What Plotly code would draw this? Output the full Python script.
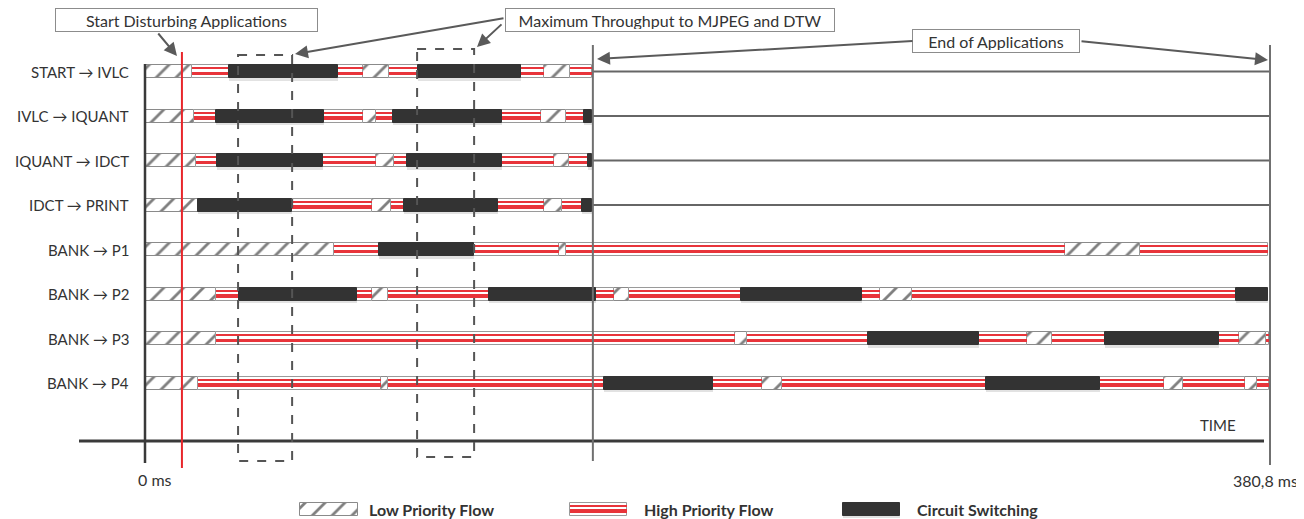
import plotly.graph_objects as go

# ---------------- data (ms) ----------------
TOTAL_MS = 380.8
START_DISTURB_MS = 12.5
END_APPS_MS = 151.6
WINDOW_1 = [31.5, 49.8]
WINDOW_2 = [92.1, 111.4]

row_labels = ["START → IVLC", "IVLC → IQUANT", "IQUANT → IDCT", "IDCT → PRINT",
              "BANK → P1", "BANK → P2", "BANK → P3", "BANK → P4"]

# L = low priority flow, H = high priority flow, C = circuit switching
row0_bounds = [0, 15.8, 28.3, 65.3, 73.8, 82.5, 92.5, 127.3, 135.0, 143.7, 151.3]
row0_kinds = "LHCHLHCHLH"
row1_bounds = [0, 16.5, 23.9, 60.6, 73.8, 78.3, 84.1, 120.8, 134.0, 142.5, 148.7, 151.3]
row1_kinds = "LHCHLHCHLHC"
row2_bounds = [0, 17.4, 24.5, 60.4, 78.3, 84.4, 88.8, 120.9, 138.6, 143.4, 149.9, 151.3]
row2_kinds = "LHCHLHCHLHC"
row3_bounds = [0, 17.8, 49.6, 77.0, 83.4, 87.7, 119.6, 135.0, 141.3, 147.9, 151.3]
row3_kinds = "LCHLHCHLHC"
row4_bounds = [0, 64.0, 79.1, 111.3, 140.3, 142.6, 311.3, 336.8, 380.1]
row4_kinds = "LHCHLHLH"
row5_bounds = [0, 23.9, 31.9, 71.8, 77.0, 82.4, 116.4, 152.8, 158.7, 163.7, 201.6,
               242.6, 248.8, 259.5, 369.2, 380.1]
row5_kinds = "LHCHLHCHLHCHLHC"
row6_bounds = [0, 23.9, 199.6, 203.8, 244.6, 282.4, 298.6, 306.9, 325.1, 363.7,
               370.2, 379.6, 380.5]
row6_kinds = "LHLHCHLHCHLH"
row7_bounds = [0, 17.8, 79.8, 82.4, 155.5, 192.3, 209.0, 215.6, 284.5, 323.4,
               344.9, 351.2, 372.3, 376.5, 380.5]
row7_kinds = "LHLHCHLHCHLHLH"

rows_bounds = [row0_bounds, row1_bounds, row2_bounds, row3_bounds,
               row4_bounds, row5_bounds, row6_bounds, row7_bounds]
rows_kinds = [row0_kinds, row1_kinds, row2_kinds, row3_kinds,
              row4_kinds, row5_kinds, row6_kinds, row7_kinds]
idle_rows = [0, 1, 2, 3]  # rows whose application ends at END_APPS_MS

legend_labels = ["Low Priority Flow", "High Priority Flow", "Circuit Switching"]

# ---------------- geometry / style ----------------
PAGE_W, PAGE_H = 1304, 519
BODY_MARGIN = 8          # default page margin around the plot div
W, H = PAGE_W - BODY_MARGIN, PAGE_H - BODY_MARGIN
X0_PX, X1_PX = 145, 1270
PPM = (X1_PX - X0_PX) / TOTAL_MS
ROW0_PX, ROW_STEP = 71.5, 44.5
FONT = "Lato"
TXT = "#333333"
RED = "#e8343a"
DARK = "#333333"
GRAY = "#666666"


def ms_at(px):
    return (px - X0_PX) / PPM


def row_at(py):
    return (py - ROW0_PX) / ROW_STEP


BAR_W = 13 / ROW_STEP
STRIPE1_W, STRIPE1_OFF = 2.2 / ROW_STEP, -3.2 / ROW_STEP
STRIPE2_W, STRIPE2_OFF = 3.6 / ROW_STEP, 2.0 / ROW_STEP

segs = {"L": ([], [], []), "H": ([], [], []), "C": ([], [], [])}
for r, (b, k) in enumerate(zip(rows_bounds, rows_kinds)):
    for i, kind in enumerate(k):
        segs[kind][0].append(b[i])
        segs[kind][1].append(b[i + 1] - b[i])
        segs[kind][2].append(r)

fig = go.Figure()


def add_kind(kind, base, dur, ys):
    common = dict(orientation="h", hoverinfo="skip", showlegend=False)
    if kind == "L":
        fig.add_trace(go.Bar(base=base, x=dur, y=ys, width=BAR_W,
                             marker=dict(color="white",
                                         pattern=dict(shape="/", fgcolor="#000000", bgcolor="white",
                                                      size=14, solidity=0.2),
                                         line=dict(color="#8a8a8a", width=1)), **common))
    elif kind == "H":
        fig.add_trace(go.Bar(base=base, x=dur, y=ys, width=BAR_W,
                             marker=dict(color="white", line=dict(color="#9a9a9a", width=1)), **common))
        fig.add_trace(go.Bar(base=base, x=dur, y=[y + STRIPE1_OFF for y in ys], width=STRIPE1_W,
                             marker=dict(color=RED, line=dict(width=0)), **common))
        fig.add_trace(go.Bar(base=base, x=dur, y=[y + STRIPE2_OFF for y in ys], width=STRIPE2_W,
                             marker=dict(color=RED, line=dict(width=0)), **common))
    else:
        fig.add_trace(go.Bar(base=base, x=dur, y=[y + 2.5 / ROW_STEP for y in ys], width=BAR_W,
                             marker=dict(color="#e2e2e2", line=dict(width=0)), **common))
        fig.add_trace(go.Bar(base=base, x=dur, y=ys, width=BAR_W,
                             marker=dict(color=DARK, line=dict(color=DARK, width=1)), **common))


for kind in "LHC":
    add_kind(kind, *segs[kind])

# idle lines after end of applications
for r in idle_rows:
    fig.add_trace(go.Scatter(x=[END_APPS_MS, TOTAL_MS], y=[r, r], mode="lines",
                             line=dict(color=GRAY, width=2), hoverinfo="skip", showlegend=False))

# legend keys
LEG_Y = row_at(509)
leg_key_px = [(300, 358), (570, 627), (843, 900)]
leg_text_px = [367, 642, 915]
for kind, (a, b) in zip("LHC", leg_key_px):
    add_kind(kind, [ms_at(a)], [ms_at(b) - ms_at(a)], [LEG_Y])
for lbl, tx in zip(legend_labels, leg_text_px):
    fig.add_annotation(x=ms_at(tx), y=LEG_Y, text="<b>" + lbl + "</b>", showarrow=False,
                       xanchor="left", yanchor="middle", font=dict(family=FONT, size=16, color=TXT))

# row labels
for r, lbl in enumerate(row_labels):
    fig.add_annotation(x=ms_at(131), y=r, text=lbl, showarrow=False, xanchor="right",
                       yanchor="middle", font=dict(family=FONT, size=15, color=TXT))

# axes & reference lines
shapes = []
shapes.append(dict(type="line", x0=0, x1=0, y0=row_at(64), y1=row_at(463),
                   line=dict(color="#3a3a3a", width=2.5)))
shapes.append(dict(type="line", x0=ms_at(79), x1=ms_at(1264), y0=row_at(441), y1=row_at(441),
                   line=dict(color="#3a3a3a", width=3)))
shapes.append(dict(type="line", x0=END_APPS_MS, x1=END_APPS_MS, y0=row_at(45), y1=row_at(461),
                   line=dict(color="#707070", width=2)))
shapes.append(dict(type="line", x0=TOTAL_MS, x1=TOTAL_MS, y0=row_at(45), y1=row_at(465),
                   line=dict(color="#707070", width=2)))
shapes.append(dict(type="line", x0=START_DISTURB_MS, x1=START_DISTURB_MS, y0=row_at(52), y1=row_at(468),
                   line=dict(color="#e8262b", width=2)))
for (a, b), top, bot in [(WINDOW_1, 55, 461), (WINDOW_2, 49, 457)]:
    shapes.append(dict(type="rect", x0=a, x1=b, y0=row_at(top), y1=row_at(bot),
                       line=dict(color="#555555", width=2, dash="dash")))
fig.update_layout(shapes=shapes)

# text boxes
boxes = [("Start Disturbing Applications", 186.5, 20, 257),
         ("Maximum Throughput to MJPEG and DTW", 670, 20, 324),
         ("End of Applications", 996, 41, 162)]
for txt, cx, cy, w in boxes:
    fig.add_annotation(x=ms_at(cx), y=row_at(cy), text=txt, showarrow=False, width=w, height=18,
                       bgcolor="white", bordercolor="#8c8c8c", borderwidth=1, borderpad=2,
                       font=dict(family=FONT, size=16, color=TXT))

arrows = [((157, 32), (177, 56)), ((505, 18), (295, 54)), ((503, 23), (477, 47)),
          ((914, 41), (597, 59)), ((1080, 41), (1268, 60))]
for (tx, ty), (hx, hy) in arrows:
    fig.add_annotation(x=ms_at(hx), y=row_at(hy), ax=ms_at(tx), ay=row_at(ty), axref="x", ayref="y",
                       text="", showarrow=True, arrowhead=2, arrowsize=1.3, arrowwidth=2,
                       arrowcolor="#5a5a5a", standoff=0)

# axis texts
fig.add_annotation(x=ms_at(1218), y=row_at(425), text="TIME", showarrow=False,
                   font=dict(family=FONT, size=15, color=TXT))
fig.add_annotation(x=ms_at(155), y=row_at(479), text="0 ms", showarrow=False,
                   font=dict(family=FONT, size=16, color=TXT))
fig.add_annotation(x=ms_at(1265), y=row_at(480), text="380,8 ms", showarrow=False,
                   font=dict(family=FONT, size=16, color=TXT))

fig.update_layout(
    width=W, height=H, margin=dict(l=0, r=0, t=0, b=0),
    paper_bgcolor="white", plot_bgcolor="white", barmode="overlay", bargap=0,
    xaxis=dict(range=[ms_at(BODY_MARGIN), ms_at(PAGE_W)], visible=False, fixedrange=True),
    yaxis=dict(range=[row_at(PAGE_H), row_at(BODY_MARGIN)], visible=False, fixedrange=True),
)

fig.write_html("out.html")
